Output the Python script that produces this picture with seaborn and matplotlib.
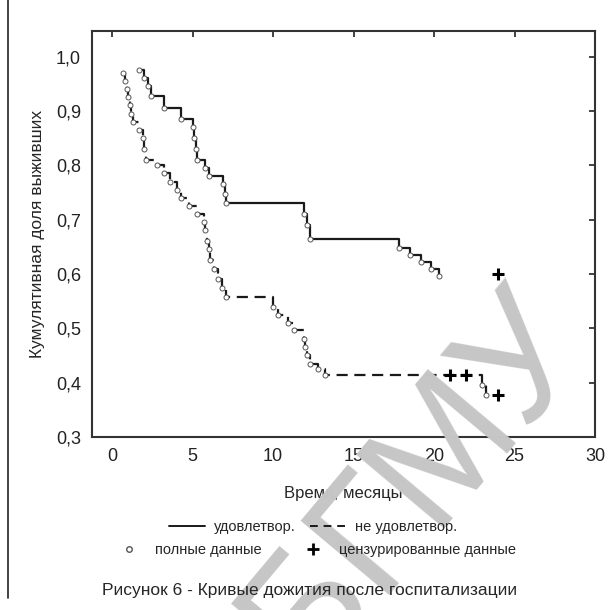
import numpy as np
import seaborn as sns
import matplotlib.pyplot as plt
from matplotlib.lines import Line2D
from matplotlib.ticker import FuncFormatter

# Группа "удовлетвор." (сплошная линия): моменты событий и доля выживших
sat_t = [1.7, 2.0, 2.2, 2.4, 3.2, 4.3, 5.0, 5.1, 5.2, 5.3, 5.8, 6.0, 6.9, 7.0, 7.1,
         11.9, 12.1, 12.3, 17.8, 18.5, 19.2, 19.8, 20.3]
sat_s = [0.975, 0.96, 0.945, 0.928, 0.906, 0.885, 0.87, 0.85, 0.83, 0.81, 0.795, 0.78,
         0.765, 0.748, 0.73, 0.71, 0.69, 0.664, 0.648, 0.635, 0.622, 0.61, 0.597]
sat_cens_t = [24.0]
sat_cens_s = [0.60]

# Группа "не удовлетвор." (пунктир)
unsat_t = [0.7, 0.8, 0.9, 1.0, 1.1, 1.2, 1.3, 1.7, 1.9, 2.0, 2.1, 2.8, 3.2, 3.6, 4.0,
           4.3, 4.8, 5.3, 5.7, 5.8, 5.9, 6.0, 6.1, 6.3, 6.6, 6.8, 7.1, 10.0, 10.3, 10.9,
           11.3, 11.9, 12.0, 12.1, 12.3, 12.8, 13.2, 23.0, 23.2]
unsat_s = [0.97, 0.955, 0.94, 0.925, 0.91, 0.895, 0.88, 0.865, 0.85, 0.83, 0.81, 0.80,
           0.785, 0.77, 0.755, 0.74, 0.725, 0.71, 0.695, 0.68, 0.66, 0.645, 0.625, 0.61,
           0.59, 0.575, 0.557, 0.54, 0.525, 0.51, 0.497, 0.48, 0.465, 0.45, 0.435, 0.425,
           0.414, 0.395, 0.378]
unsat_cens_t = [21.0, 22.0, 24.0]
unsat_cens_s = [0.414, 0.414, 0.378]

x_ticks = [0, 5, 10, 15, 20, 25, 30]
y_ticks = [0.3, 0.4, 0.5, 0.6, 0.7, 0.8, 0.9, 1.0]

sns.set_style("white")
plt.rcParams['font.family'] = ['Liberation Sans', 'DejaVu Sans']

fig = plt.figure(figsize=(6.1, 6.1), dpi=100)
ax = fig.add_axes([92 / 610, 1 - 437 / 610, 503 / 610, 406 / 610])
ax.set_facecolor('none')

# водяной знак
fig.text(0.68, 0.21, "БГМУ", rotation=50, fontsize=120, color="#c6c6c6",
         ha="center", va="center", zorder=0)

line_col = "#1a1a1a"
sns.lineplot(x=sat_t, y=sat_s, ax=ax, drawstyle="steps-post", estimator=None,
             sort=False, color=line_col, lw=1.6, zorder=2)
sns.lineplot(x=unsat_t, y=unsat_s, ax=ax, drawstyle="steps-post", estimator=None,
             sort=False, color=line_col, lw=1.6, dashes=False, linestyle=(0, (5, 3)),
             zorder=2)

for t, s in [(sat_t, sat_s), (unsat_t, unsat_s)]:
    ax.plot(t, s, ls="none", marker="o", ms=3.6, mfc="white", mec="#555555",
            mew=0.7, zorder=3)
for t, s in [(sat_cens_t, sat_cens_s), (unsat_cens_t, unsat_cens_s)]:
    ax.plot(t, s, ls="none", marker="+", ms=8, mec="black", mew=2.2, zorder=4)

ax.set_xlim(-1.25, 30)
ax.set_ylim(0.3, 1.047)
ax.set_xticks(x_ticks)
ax.set_yticks(y_ticks)
ax.yaxis.set_major_formatter(FuncFormatter(lambda v, p: f"{v:.1f}".replace(".", ",")))
ax.tick_params(direction="in", length=4, width=1.2, top=True, right=True,
               labelsize=13, colors="#222222", pad=8)
for sp in ax.spines.values():
    sp.set_color("#333333")
    sp.set_linewidth(1.5)

ax.set_xlabel("Время, месяцы", fontsize=12, labelpad=15)
ax.set_ylabel("Кумулятивная доля выживших", fontsize=12.5, labelpad=8)

h1 = [Line2D([], [], color=line_col, lw=1.4),
      Line2D([], [], color=line_col, lw=1.4, linestyle=(0, (4, 3)))]
fig.legend(h1, ["удовлетвор.", "не удовлетвор."], ncol=2, frameon=False,
           loc="center", bbox_to_anchor=(313 / 610, 1 - 527 / 610),
           fontsize=10.5, handlelength=2.5, columnspacing=1.0, handletextpad=0.6)
h2 = [Line2D([], [], ls="none", marker="o", ms=4, mfc="white", mec="#555555"),
      Line2D([], [], ls="none", marker="+", ms=8, mec="black", mew=2)]
fig.legend(h2, ["полные данные", "цензурированные данные"], ncol=2, frameon=False,
           loc="center", bbox_to_anchor=(315 / 610, 1 - 550 / 610),
           fontsize=10.5, columnspacing=2.5, handletextpad=0.8)

fig.text(310 / 610, 1 - 590 / 610, "Рисунок 6 - Кривые дожития после госпитализации",
         ha="center", va="center", fontsize=12.5)

# вертикальная линия у левого края страницы
fig.add_artist(Line2D([8 / 610, 8 / 610], [0.02, 1.0], color="#222222", lw=1.2))

fig.savefig("out.png", dpi=100)
